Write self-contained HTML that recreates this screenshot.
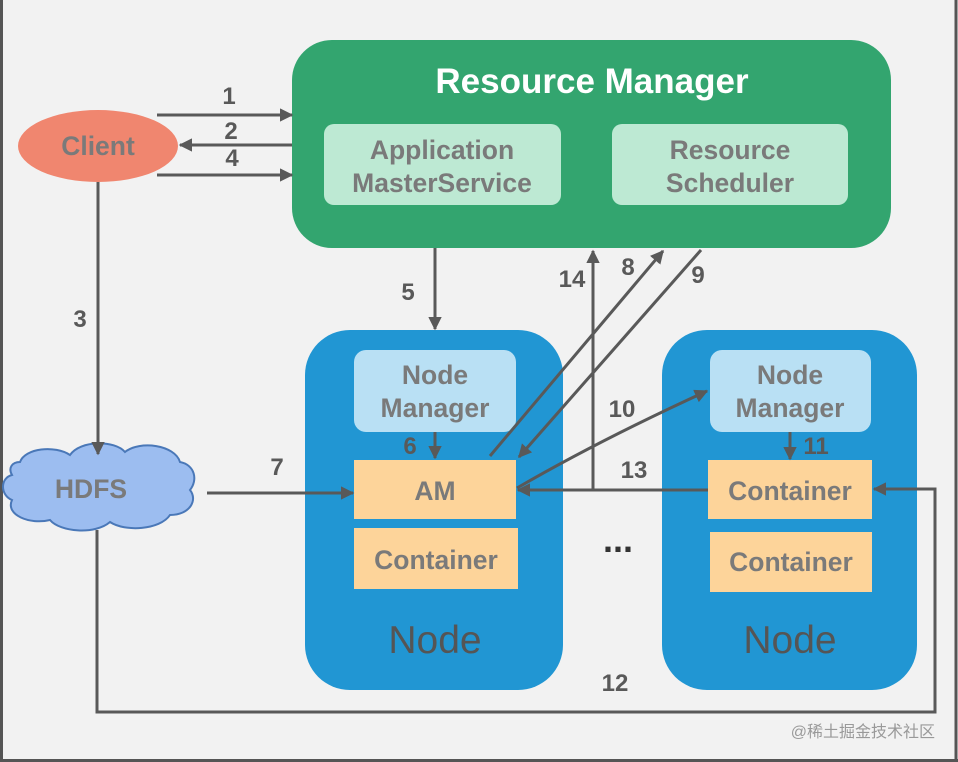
<!DOCTYPE html>
<html><head><meta charset="utf-8"><style>
html,body{margin:0;padding:0;background:#f2f2f2;}
svg{display:block;}
text{font-family:"Liberation Sans",Arial,sans-serif;}
.b{font-weight:bold;fill:#7a7a7a;font-size:26.5px;text-anchor:middle;}
.n{font-weight:bold;fill:#595959;font-size:24px;text-anchor:middle;}
.l{stroke:#595959;stroke-width:3;fill:none;}
</style></head><body>
<svg width="958" height="762" viewBox="0 0 958 762" xmlns="http://www.w3.org/2000/svg">
<defs>
<marker id="a" viewBox="0 0 10 10" refX="9" refY="5" markerWidth="4.5" markerHeight="4.5" orient="auto"><path d="M0,0 L10,5 L0,10 z" fill="#595959"/></marker>
</defs>
<rect x="0" y="0" width="958" height="762" fill="#f2f2f2"/>
<line x1="1.5" y1="0" x2="1.5" y2="762" stroke="#555" stroke-width="3"/>
<line x1="956" y1="0" x2="956" y2="762" stroke="#555" stroke-width="3"/>
<line x1="0" y1="760.5" x2="958" y2="760.5" stroke="#555" stroke-width="3"/>

<rect x="292" y="40" width="599" height="208" rx="40" fill="#33a56f"/>
<text x="592" y="93" text-anchor="middle" font-weight="bold" font-size="35" fill="#fff">Resource Manager</text>
<rect x="324" y="124" width="237" height="81" rx="10" fill="#bde9d3"/>
<text class="b" x="442" y="159">Application</text>
<text class="b" x="442" y="192">MasterService</text>
<rect x="612" y="124" width="236" height="81" rx="10" fill="#bde9d3"/>
<text class="b" x="730" y="159">Resource</text>
<text class="b" x="730" y="192">Scheduler</text>

<ellipse cx="98" cy="146" rx="80" ry="36" fill="#f0866f"/>
<text class="b" x="98" y="155">Client</text>

<g fill="#9cbdf0" stroke="#4a78b8" stroke-width="2">
<path d="M20,462 C25,448 55,445 70,455 C80,440 115,440 125,452 C140,440 175,445 180,462 C195,465 198,480 190,490 C198,500 190,515 170,515 C160,530 125,532 110,522 C95,535 60,532 50,520 C30,525 5,515 12,500 C0,495 0,478 12,475 C8,468 12,462 20,462 z"/>
</g>
<text class="b" x="91" y="498">HDFS</text>

<rect x="305" y="330" width="258" height="360" rx="45" fill="#2196d3"/>
<rect x="354" y="350" width="162" height="82" rx="12" fill="#b9e0f4"/>
<text class="b" x="435" y="384">Node</text>
<text class="b" x="435" y="417">Manager</text>
<rect x="354" y="460" width="162" height="59" fill="#fdd49a"/>
<text class="b" x="435" y="500">AM</text>
<rect x="354" y="528" width="164" height="61" fill="#fdd49a"/>
<text class="b" x="436" y="569">Container</text>
<text x="435" y="653" text-anchor="middle" font-size="39" fill="#555">Node</text>

<rect x="662" y="330" width="255" height="360" rx="45" fill="#2196d3"/>
<rect x="710" y="350" width="161" height="82" rx="12" fill="#b9e0f4"/>
<text class="b" x="790" y="384">Node</text>
<text class="b" x="790" y="417">Manager</text>
<rect x="708" y="460" width="164" height="59" fill="#fdd49a"/>
<text class="b" x="790" y="500">Container</text>
<rect x="710" y="532" width="162" height="60" fill="#fdd49a"/>
<text class="b" x="791" y="571">Container</text>
<text x="790" y="653" text-anchor="middle" font-size="39" fill="#555">Node</text>

<text x="618" y="552" text-anchor="middle" font-weight="bold" font-size="36" fill="#333">...</text>

<line class="l" x1="157" y1="115" x2="292" y2="115" marker-end="url(#a)"/>
<line class="l" x1="292" y1="145" x2="180" y2="145" marker-end="url(#a)"/>
<line class="l" x1="157" y1="175" x2="292" y2="175" marker-end="url(#a)"/>
<line class="l" x1="98" y1="182" x2="98" y2="454" marker-end="url(#a)"/>
<line class="l" x1="435" y1="248" x2="435" y2="329" marker-end="url(#a)"/>
<line class="l" x1="435" y1="432" x2="435" y2="458" marker-end="url(#a)"/>
<line class="l" x1="790" y1="432" x2="790" y2="459" marker-end="url(#a)"/>
<line class="l" x1="207" y1="493" x2="353" y2="493" marker-end="url(#a)"/>
<line class="l" x1="593" y1="490" x2="593" y2="251" marker-end="url(#a)"/>
<line class="l" x1="490" y1="456" x2="663" y2="251" marker-end="url(#a)"/>
<line class="l" x1="701" y1="250" x2="519" y2="457" marker-end="url(#a)"/>
<path class="l" d="M517,488 Q600,440 707,391" marker-end="url(#a)"/>
<line class="l" x1="708" y1="490" x2="518" y2="490" marker-end="url(#a)"/>
<path class="l" d="M97,530 L97,712 L935,712 L935,489 L874,489" marker-end="url(#a)"/>

<text class="n" x="229" y="104">1</text>
<text class="n" x="231" y="139">2</text>
<text class="n" x="232" y="166">4</text>
<text class="n" x="80" y="327">3</text>
<text class="n" x="408" y="300">5</text>
<text class="n" x="410" y="454">6</text>
<text class="n" x="277" y="475">7</text>
<text class="n" x="628" y="275">8</text>
<text class="n" x="698" y="283">9</text>
<text class="n" x="572" y="287">14</text>
<text class="n" x="622" y="417">10</text>
<text class="n" x="816" y="454">11</text>
<text class="n" x="634" y="478">13</text>
<text class="n" x="615" y="691">12</text>

<text x="935" y="737" text-anchor="end" font-size="16" fill="#999" font-family="'Liberation Sans','Noto Sans CJK SC',sans-serif">@稀土掘金技术社区</text>
</svg>
</body></html>
